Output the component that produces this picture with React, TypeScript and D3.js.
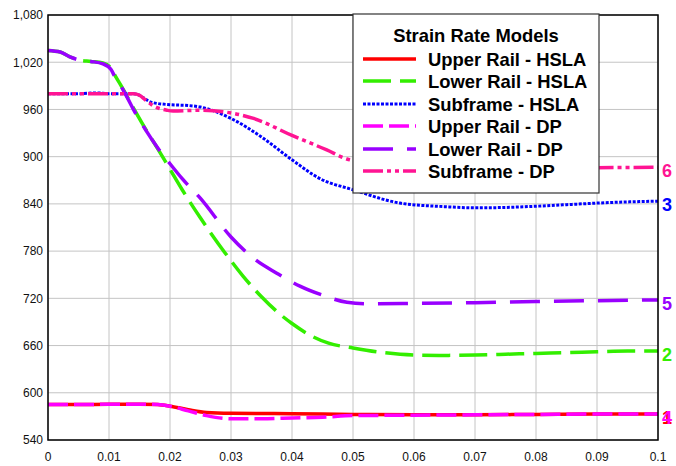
import React from "react";
import * as d3 from "d3";

// Strain-rate model comparison: stress-like response vs time
const upperRailHSLA_x = [0, 0.005, 0.01, 0.015, 0.018, 0.02, 0.023, 0.026, 0.03, 0.04, 0.05, 0.06, 0.07, 0.08, 0.09, 0.1];
const upperRailHSLA_y = [585, 585, 585.5, 585.5, 585, 583, 578.5, 575, 574, 573.5, 572.5, 572, 572, 572.5, 573, 573];

const lowerRailHSLA_x = [0, 0.002, 0.0035, 0.005, 0.007, 0.009, 0.0103, 0.011, 0.012, 0.013, 0.0145, 0.016, 0.018, 0.02, 0.022, 0.025, 0.029, 0.032, 0.035, 0.038, 0.04, 0.043, 0.046, 0.05, 0.055, 0.06, 0.065, 0.07, 0.075, 0.08, 0.085, 0.09, 0.095, 0.1];
const lowerRailHSLA_y = [1035, 1033, 1027, 1023, 1021, 1019, 1013, 1003, 990, 976, 955, 935, 910, 884, 858, 822, 778, 748, 722, 700, 688, 673, 663, 657, 651, 648, 647.5, 648, 649, 650, 651, 652, 653, 653];

const subframeHSLA_x = [0, 0.005, 0.008, 0.01, 0.014, 0.015, 0.016, 0.017, 0.02, 0.023, 0.025, 0.03, 0.035, 0.04, 0.0446, 0.05, 0.0577, 0.065, 0.07, 0.075, 0.08, 0.085, 0.09, 0.095, 0.1];
const subframeHSLA_y = [980, 980, 981, 980, 980, 978, 973, 969, 966, 965, 963, 948.6, 925, 896, 872, 858, 841, 836.5, 835, 835.5, 837, 839, 841, 842.5, 843.5];

const upperRailDP_x = [0, 0.005, 0.01, 0.015, 0.018, 0.02, 0.023, 0.026, 0.03, 0.035, 0.04, 0.045, 0.05, 0.06, 0.07, 0.08, 0.09, 0.1];
const upperRailDP_y = [585, 585, 585.5, 585.5, 585, 583, 577, 571, 567, 567, 568, 569, 571, 571.5, 572, 572.5, 573, 573];

const lowerRailDP_x = [0, 0.002, 0.0035, 0.005, 0.007, 0.009, 0.0103, 0.011, 0.012, 0.013, 0.014, 0.016, 0.018, 0.02, 0.022, 0.025, 0.03, 0.034, 0.0375, 0.0413, 0.045, 0.049, 0.0525, 0.06, 0.07, 0.08, 0.09, 0.1];
const lowerRailDP_y = [1035, 1033, 1027, 1023, 1021, 1018, 1011, 1001, 989, 975, 960, 934, 911, 891, 872, 847, 798, 769, 752, 735.5, 724, 715, 713, 713.5, 714.5, 716, 717, 718];

const subframeDP_x = [0, 0.005, 0.01, 0.014, 0.015, 0.016, 0.017, 0.018, 0.0195, 0.0205, 0.025, 0.03, 0.0337, 0.04, 0.0457, 0.049, 0.055, 0.06, 0.07, 0.08, 0.09, 0.1];
const subframeDP_y = [980, 980, 980, 980, 978, 972, 966, 962, 959, 958, 959, 955.5, 948.6, 927, 908.5, 897, 890, 887.5, 886, 885.5, 886, 886.5];

const seriesNames = ["Upper Rail - HSLA", "Lower Rail - HSLA", "Subframe - HSLA", "Upper Rail - DP", "Lower Rail - DP", "Subframe - DP"];
const seriesTags = ["1", "2", "3", "4", "5", "6"];
const seriesColors = ["#ff0000", "#33ee00", "#0000ff", "#ff00ff", "#9900ff", "#ff1493"];
const seriesDash = ["none", "28,9", "3,1.5", "20,6", "30,14", "20,4,4,4,4,4"];

const xTicks = [0, 0.01, 0.02, 0.03, 0.04, 0.05, 0.06, 0.07, 0.08, 0.09, 0.1];
const yTicks = [540, 600, 660, 720, 780, 840, 900, 960, 1020, 1080];

const W = 676;
const H = 466;
const M = { left: 48, right: 658, top: 15, bottom: 440 };

export default function App() {
  const x = d3.scaleLinear().domain([0, 0.1]).range([M.left, M.right]);
  const y = d3.scaleLinear().domain([540, 1080]).range([M.bottom, M.top]);

  const xs = [upperRailHSLA_x, lowerRailHSLA_x, subframeHSLA_x, upperRailDP_x, lowerRailDP_x, subframeDP_x];
  const ys = [upperRailHSLA_y, lowerRailHSLA_y, subframeHSLA_y, upperRailDP_y, lowerRailDP_y, subframeDP_y];

  const line = d3
    .line<[number, number]>()
    .x((d) => x(d[0]))
    .y((d) => y(d[1]))
    .curve(d3.curveMonotoneX);

  const paths = xs.map((xa, i) => line(xa.map((v, j) => [v, ys[i][j]] as [number, number])) || "");

  const fmtY = d3.format(",");
  const fmtX = (v: number) => (v === 0 ? "0" : d3.format(".2~f")(v));

  const legend = { x: 353, y: 14, w: 246, h: 179 };
  const legendRowY = [59, 81, 104, 126, 149, 171];

  return (
    <svg
      width={W}
      height={H}
      style={{ position: "absolute", left: 0, top: 0, background: "#fff" }}
      fontFamily="'Liberation Sans', Arial, sans-serif"
    >
      <rect x={0} y={0} width={W} height={H} fill="#fff" />
      {/* grid */}
      {xTicks.map((t) => (
        <line key={"gx" + t} x1={x(t)} x2={x(t)} y1={M.top} y2={M.bottom} stroke="#c4c4c4" strokeWidth={1} />
      ))}
      {yTicks.map((t) => (
        <line key={"gy" + t} x1={M.left} x2={M.right} y1={y(t)} y2={y(t)} stroke="#c4c4c4" strokeWidth={1} />
      ))}

      {/* series */}
      {paths.map((p, i) => (
        <path
          key={"s" + i}
          d={p}
          fill="none"
          stroke={seriesColors[i]}
          strokeWidth={i === 2 ? 3 : 3.5}
          strokeDasharray={seriesDash[i] === "none" ? undefined : seriesDash[i]}
          strokeLinecap="butt"
          strokeLinejoin="round"
        />
      ))}

      {/* plot frame */}
      <rect x={M.left} y={M.top} width={M.right - M.left} height={M.bottom - M.top} fill="none" stroke="#000" strokeWidth={1.5} />

      {/* y tick labels */}
      {yTicks.map((t) => (
        <text key={"ty" + t} x={43} y={y(t)} dy="0.36em" textAnchor="end" fontSize={12} fill="#111">
          {fmtY(t)}
        </text>
      ))}
      {/* x tick labels */}
      {xTicks.map((t) => (
        <text key={"tx" + t} x={x(t)} y={461} textAnchor="middle" fontSize={12} fill="#111">
          {fmtX(t)}
        </text>
      ))}

      {/* end tags, in series order so "4" sits over "1" */}
      {seriesTags.map((tag, i) => {
        const lastY = ys[i][ys[i].length - 1];
        return (
          <text key={"tag" + i} x={662} y={y(lastY) + 10} fontSize={18} fontWeight="bold" fill={seriesColors[i]}>
            {tag}
          </text>
        );
      })}

      {/* legend */}
      <rect x={legend.x} y={legend.y} width={legend.w} height={legend.h} fill="#fff" stroke="#333" strokeWidth={1.2} />
      <text x={legend.x + legend.w / 2} y={42} textAnchor="middle" fontSize={18.4} fontWeight="bold" fill="#000">
        Strain Rate Models
      </text>
      {seriesNames.map((name, i) => (
        <g key={"lg" + i}>
          <line
            x1={363}
            x2={416}
            y1={legendRowY[i]}
            y2={legendRowY[i]}
            stroke={seriesColors[i]}
            strokeWidth={i === 2 ? 3 : 3.5}
            strokeDasharray={seriesDash[i] === "none" ? undefined : seriesDash[i]}
          />
          <text x={428} y={legendRowY[i] + 6.5} fontSize={18.4} fontWeight="bold" fill="#000">
            {name}
          </text>
        </g>
      ))}
    </svg>
  );
}
